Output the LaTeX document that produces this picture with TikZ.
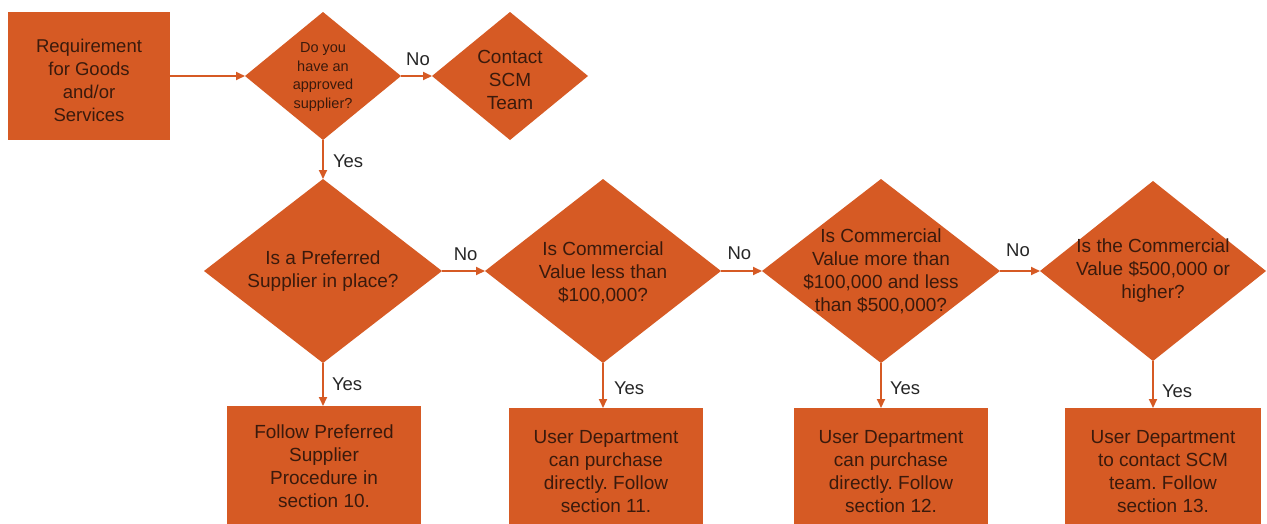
\documentclass[tikz,border=0pt]{standalone}
\usepackage{fontspec}
\setmainfont{Liberation Sans}
\usetikzlibrary{shapes.geometric,arrows.meta}
\definecolor{orfill}{HTML}{D65A24}
\definecolor{boxtext}{HTML}{3A1A0C}
\definecolor{lbltext}{HTML}{262626}
\frenchspacing
\begin{document}
\begin{tikzpicture}[x=1pt,y=-1pt,
  dia/.style={diamond, fill=orfill, draw=none, inner sep=0pt, outer sep=0pt},
  rect/.style={rectangle, fill=orfill, draw=none, inner sep=0pt, outer sep=0pt},
  txt/.style={text=boxtext, align=center, inner sep=0pt, font=\fontsize{19}{23}\selectfont},
  smalltxt/.style={text=boxtext, align=center, inner sep=0pt, font=\fontsize{14.5}{18.5}\selectfont},
  lbl/.style={text=lbltext, inner sep=0pt, font=\fontsize{18.5}{22}\selectfont},
  flow/.style={draw=orfill, line width=2pt, -{Triangle[length=9pt,width=8pt]}}
]
\fill[white] (0,0) rectangle (1267,523);
\useasboundingbox (0,0) rectangle (1267,523);

% top row
\node[rect, minimum width=162pt, minimum height=128pt] (req) at (89,76) {};
\node[txt, font=\fontsize{18.5}{23}\selectfont] (reqt) at (89,80) {Requirement\\for Goods\\and/or\\Services};

\node[dia, minimum width=156pt, minimum height=128pt] (q1) at (323,76) {};
\node[smalltxt] (q1t) at (323,77) {Do you\\have an\\approved\\supplier?};

\node[dia, minimum width=156pt, minimum height=128pt] (scm) at (510,76) {};
\node[txt] (scmt) at (510,80) {Contact\\SCM\\Team};

% decision row
\node[dia, minimum width=238pt, minimum height=184pt] (q2) at (323,271) {};
\node[txt] (q2t) at (q2) {Is a Preferred\\Supplier in place?};

\node[dia, minimum width=236pt, minimum height=184pt] (q3) at (603,271) {};
\node[txt] (q3t) at (603,273) {Is Commercial\\Value less than\\\$100,000?};

\node[dia, minimum width=238pt, minimum height=184pt] (q4) at (881,271) {};
\node[txt] (q4t) at (881,271) {Is Commercial\\Value more than\\\$100,000 and less\\than \$500,000?};

\node[dia, minimum width=226pt, minimum height=180pt] (q5) at (1153,271) {};
\node[txt] (q5t) at (q5) {Is the Commercial\\Value \$500,000 or\\higher?};

% outcome row
\node[rect, minimum width=194pt, minimum height=120pt] (o1) at (324,466) {};
\node[txt] (o1t) at (o1) {Follow Preferred\\Supplier\\Procedure in\\section 10.};

\node[rect, minimum width=194pt, minimum height=128pt] (o2) at (606,472) {};
\node[txt] (o2t) at (o2) {User Department\\can purchase\\directly. Follow\\section 11.};

\node[rect, minimum width=194pt, minimum height=128pt] (o3) at (891,472) {};
\node[txt] (o3t) at (o3) {User Department\\can purchase\\directly. Follow\\section 12.};

\node[rect, minimum width=196pt, minimum height=128pt] (o4) at (1163,472) {};
\node[txt] (o4t) at (o4) {User Department\\to contact SCM\\team. Follow\\section 13.};

% connectors
\draw[flow] (req.east) -- (q1.west);
\draw[flow] (q1.east) -- node[lbl, above=9pt, pos=0.55] (n1) {No} (scm.west);
\draw[flow] (q1.south) -- node[lbl, right=9pt, pos=0.55] (y1) {Yes} (q2.north);

\draw[flow] (q2.east) -- node[lbl, above=9pt, pos=0.55] (n2) {No} (q3.west);
\draw[flow] (q3.east) -- node[lbl, above=10pt, pos=0.45] (n3) {No} (q4.west);
\draw[flow] (q4.east) -- node[lbl, above=13pt, pos=0.45] (n4) {No} (q5.west);

\draw[flow] (q2.south) -- node[lbl, right=8pt, pos=0.5] (y2) {Yes} (q2.south |- o1.north);
\draw[flow] (q3.south) -- node[lbl, right=10pt, pos=0.55] (y3) {Yes} (q3.south |- o2.north);
\draw[flow] (q4.south) -- node[lbl, right=8pt, pos=0.55] (y4) {Yes} (q4.south |- o3.north);
\draw[flow] (q5.south) -- node[lbl, right=8pt, pos=0.65] (y5) {Yes} (q5.south |- o4.north);
\end{tikzpicture}
\end{document}
